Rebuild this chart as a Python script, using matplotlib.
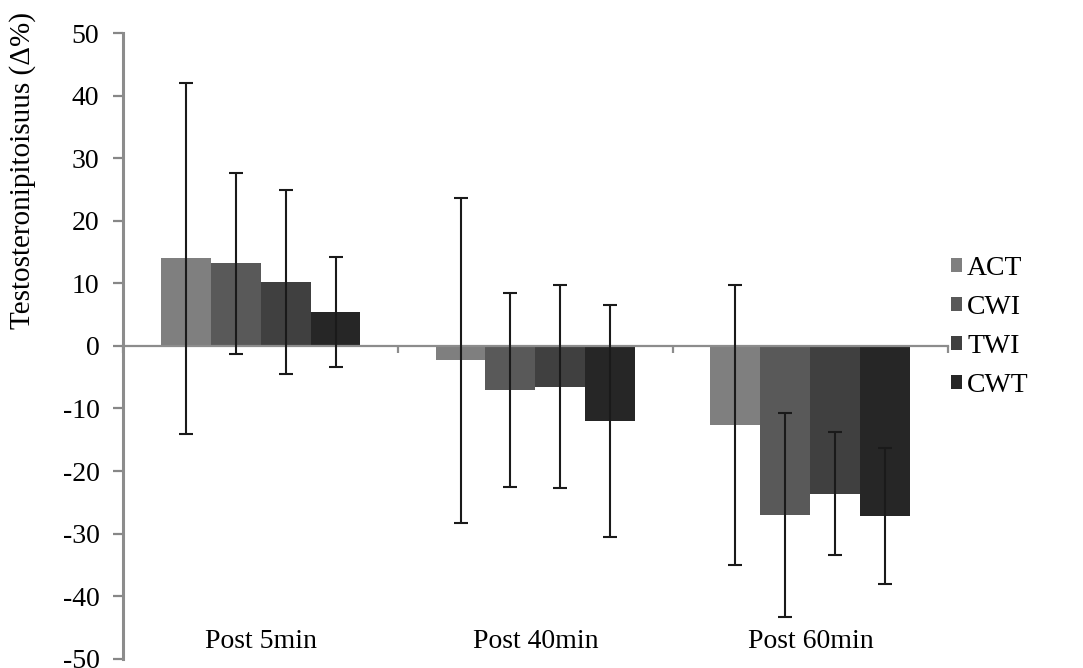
import matplotlib
matplotlib.use("Agg")
import matplotlib.pyplot as plt
from matplotlib.transforms import blended_transform_factory
import numpy as np

plt.rcParams["font.family"] = ["Liberation Serif", "DejaVu Serif"]
plt.rcParams["axes.unicode_minus"] = False

categories = ["Post 5min", "Post 40min", "Post 60min"]
groups = ["ACT", "CWI", "TWI", "CWT"]
colors = ["#7f7f7f", "#595959", "#404040", "#262626"]

act_mean = [14.0, -2.3, -12.7]
cwi_mean = [13.2, -7.0, -27.0]
twi_mean = [10.2, -6.5, -23.6]
cwt_mean = [5.4, -12.0, -27.2]

act_sd = [28.1, 26.0, 22.4]
cwi_sd = [14.5, 15.5, 16.3]
twi_sd = [14.7, 16.2, 9.9]
cwt_sd = [8.8, 18.5, 10.8]

means = [act_mean, cwi_mean, twi_mean, cwt_mean]
sds = [act_sd, cwi_sd, twi_sd, cwt_sd]

fig = plt.figure(figsize=(10.83, 6.68), dpi=100)
ax = fig.add_axes([0.1136, 0.0142, 0.8753 - 0.1136, 0.9499 - 0.0142])

x = np.arange(len(categories))
width = 0.1818
offsets = (np.arange(len(groups)) - 1.5) * width

for i, g in enumerate(groups):
    ax.bar(x + offsets[i], means[i], width, color=colors[i], label=g,
           edgecolor="none", zorder=2)
    ax.errorbar(x + offsets[i], means[i], yerr=sds[i], fmt="none",
                ecolor="#1a1a1a", elinewidth=1.5, capsize=4.7, capthick=1.5,
                zorder=3)

ax.set_xlim(-0.5, len(categories) - 0.5)
ax.set_ylim(-50, 50)
ax.set_yticks(np.arange(-50, 51, 10))
ax.tick_params(axis="y", labelsize=20, length=7, width=1.6,
               color="#878787", pad=10)

# category boundaries as ticks on the zero line
ax.spines["bottom"].set_position(("data", 0))
ax.spines["bottom"].set_color("#8c8c8c")
ax.spines["bottom"].set_linewidth(1.6)
ax.spines["left"].set_color("#8c8c8c")
ax.spines["left"].set_linewidth(2.2)
ax.spines["top"].set_visible(False)
ax.spines["right"].set_visible(False)
ax.set_xticks(np.arange(-0.5, len(categories), 1.0))
ax.set_xticklabels([])
ax.tick_params(axis="x", length=5, width=1.6, color="#8c8c8c", direction="out")

trans = blended_transform_factory(ax.transData, ax.transAxes)
for xi, name in zip(x, categories):
    ax.text(xi, 0.017, name, transform=trans, ha="center", va="baseline",
            fontsize=20)

fig.text(23 / 1083, 1 - 171 / 668, "Testosteronipitoisuus (\u0394%)",
         rotation=90, ha="center", va="center", fontsize=21)

fig.legend(loc="center left", bbox_to_anchor=(951 / 1083, 1 - 327 / 668),
           frameon=False, fontsize=20, handlelength=0.38, handleheight=0.38,
           handletextpad=0.2, labelspacing=0.5, borderpad=0,
           borderaxespad=0)

fig.savefig("out.png", dpi=100)
